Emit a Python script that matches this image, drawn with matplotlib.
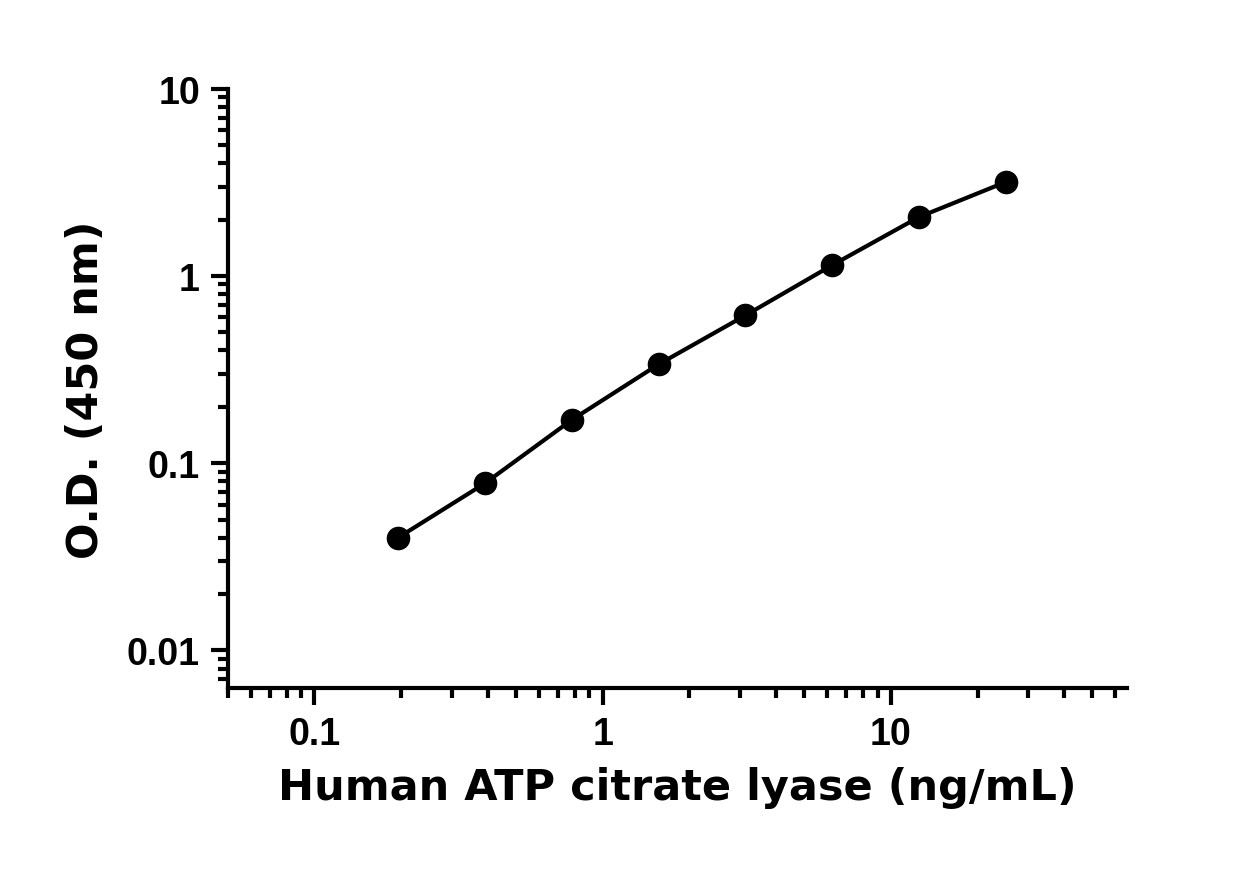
import matplotlib
matplotlib.use("Agg")
import matplotlib.pyplot as plt
import numpy as np

conc = [0.195, 0.39, 0.78, 1.5625, 3.125, 6.25, 12.5, 25]
od = [0.040, 0.078, 0.170, 0.337, 0.615, 1.14, 2.06, 3.17]

plt.rcParams['font.family'] = ['DejaVu Sans']
fig = plt.figure(figsize=(12.51, 8.7), dpi=100)
ax = fig.add_axes([0.182, 0.208, 0.719, 0.689])
ax.set_xscale('log'); ax.set_yscale('log')
ax.plot(conc, od, color='black', lw=3, marker='o', ms=16, zorder=3)
ax.set_xlim(0.05, 66)
ax.set_ylim(0.0063, 10)
for s in ['top', 'right']:
    ax.spines[s].set_visible(False)
for s in ['left', 'bottom']:
    ax.spines[s].set_linewidth(3)
ax.tick_params(which='major', length=12, width=3, pad=8)
ax.tick_params(which='minor', length=7, width=3)
tfont = dict(family=['Liberation Sans Narrow', 'Liberation Sans'], fontweight='bold', fontsize=27)
ax.set_xticks([0.1, 1, 10]); ax.set_xticklabels(['0.1', '1', '10'], **tfont)
ax.set_yticks([0.01, 0.1, 1, 10]); ax.set_yticklabels(['0.01', '0.1', '1', '10'], **tfont)
ax.set_xlabel('Human ATP citrate lyase (ng/mL)', fontsize=31, fontweight='bold', labelpad=10)
ax.set_ylabel('O.D. (450 nm)', fontsize=31, fontweight='bold', labelpad=14)
fig.savefig('out.png', dpi=100)
